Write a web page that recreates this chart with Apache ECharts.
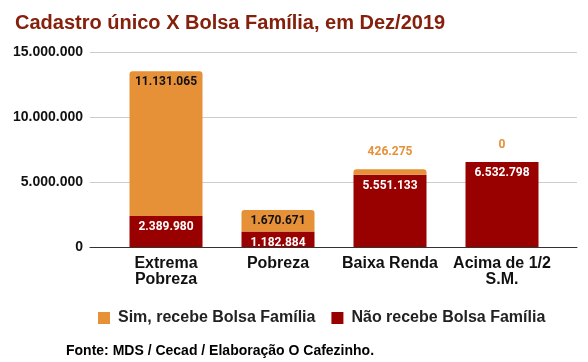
<!DOCTYPE html>
<html><head><meta charset="utf-8">
<script src="https://cdn.jsdelivr.net/npm/echarts@6/dist/echarts.min.js"></script>
<style>html,body{margin:0;padding:0;background:#fff}#c{width:588px;height:362px}</style>
</head><body><div id="c"></div>
<script>
const categories = ['Extrema\nPobreza', 'Pobreza', 'Baixa Renda', 'Acima de 1/2\nS.M.'];
const simRecebe = [11131065, 1670671, 426275, 0];
const naoRecebe = [2389980, 1182884, 5551133, 6532798];
const yTicks = [0, 5000000, 10000000, 15000000];

const fmt = n => String(n).replace(/\B(?=(\d{3})+(?!\d))/g, '.');
const chart = echarts.init(document.getElementById('c'));
const orange = '#E69138', red = '#990000';

const simData = simRecebe.map((v, i) => {
  const big = v > 1000000;
  return {
    value: v,
    label: big
      ? { position: 'insideTop', distance: 5, color: '#111' }
      : { position: 'top', distance: 11, color: orange }
  };
});

chart.setOption({
  animation: false,
  title: {
    text: 'Cadastro único X Bolsa Família, em Dez/2019',
    left: 10, top: 8,
    textStyle: { fontFamily: 'Liberation Sans', fontWeight: 'bold', fontSize: 20, color: '#85200C' }
  },
  legend: {
    left: 98, top: 310, padding: 0,
    itemWidth: 12, itemHeight: 12, itemGap: 16,
    icon: 'rect',
    textStyle: { fontFamily: 'Liberation Sans', fontWeight: 'bold', fontSize: 16, color: '#222', padding: [0, 0, 0, 3] },
    data: ['Sim, recebe Bolsa Família', 'Não recebe Bolsa Família']
  },
  graphic: [{
    type: 'text', left: 66, top: 344,
    style: { text: 'Fonte: MDS / Cecad / Elaboração O Cafezinho.', font: 'bold 14px "Liberation Sans"', fill: '#000' }
  }],
  grid: [
    { left: 90, right: 11, top: 52, bottom: 115 },
    { left: 110, right: 30, top: 52, bottom: 115 }
  ],
  xAxis: [
    { type: 'value', gridIndex: 0, min: 0, max: 1, show: true,
      axisLine: { show: true, lineStyle: { color: '#333', width: 1 } },
      axisTick: { show: false }, axisLabel: { show: false }, splitLine: { show: false } },
    { type: 'category', gridIndex: 1, data: categories,
      axisLine: { show: false }, axisTick: { show: false },
      axisLabel: { margin: 9, fontFamily: 'Liberation Sans', fontWeight: 'bold', fontSize: 16, color: '#111', lineHeight: 16, interval: 0 } }
  ],
  yAxis: [
    { type: 'value', gridIndex: 0, min: yTicks[0], max: yTicks[yTicks.length - 1], interval: yTicks[1] - yTicks[0],
      axisLine: { show: false }, axisTick: { show: false },
      axisLabel: { margin: 7, formatter: v => fmt(v), fontFamily: 'Liberation Sans', fontWeight: 'bold', fontSize: 14, color: '#111' },
      splitLine: { lineStyle: { color: '#ccc' } } },
    { type: 'value', gridIndex: 1, min: yTicks[0], max: yTicks[yTicks.length - 1], show: false, splitLine: { show: false } }
  ],
  series: [
    { name: 'Não recebe Bolsa Família', type: 'bar', xAxisIndex: 1, yAxisIndex: 1, stack: 't',
      barWidth: 73, itemStyle: { color: red },
      label: { show: true, position: 'insideTop', distance: 5, color: '#fff', fontFamily: 'Roboto', fontWeight: 'bold', fontSize: 12, formatter: p => fmt(p.value) },
      data: naoRecebe },
    { name: 'Sim, recebe Bolsa Família', type: 'bar', xAxisIndex: 1, yAxisIndex: 1, stack: 't',
      barWidth: 73, itemStyle: { color: orange, borderRadius: [3, 3, 0, 0] },
      label: { show: true, fontFamily: 'Roboto', fontWeight: 'bold', fontSize: 12, formatter: p => fmt(p.value) },
      data: simData }
  ]
});
</script></body></html>
